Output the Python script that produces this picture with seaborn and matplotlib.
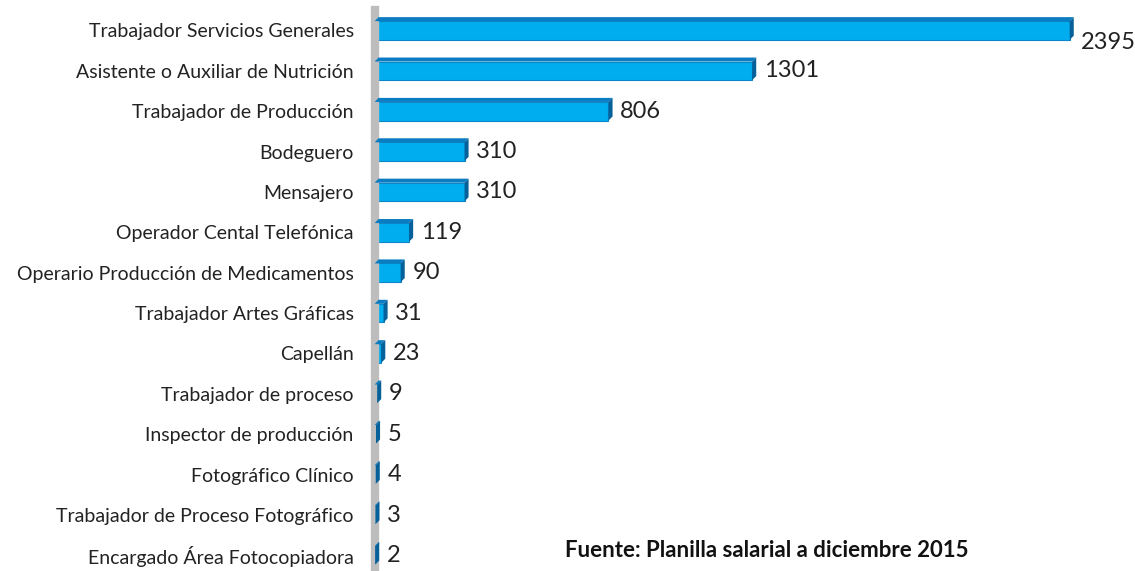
import matplotlib
matplotlib.use('Agg')
import matplotlib.pyplot as plt
from matplotlib.patches import Polygon
import pandas as pd
import seaborn as sns

# Data
puestos = ['Trabajador Servicios Generales', 'Asistente o Auxiliar de Nutrición',
           'Trabajador de Producción', 'Bodeguero', 'Mensajero',
           'Operador Cental Telefónica', 'Operario Producción de Medicamentos',
           'Trabajador Artes Gráficas', 'Capellán', 'Trabajador de proceso',
           'Inspector de producción', 'Fotográfico Clínico',
           'Trabajador de Proceso Fotográfico', 'Encargado Área Fotocopiadora']
cantidad = [2395, 1301, 806, 310, 310, 119, 90, 31, 23, 9, 5, 4, 3, 2]
fuente = 'Fuente: Planilla salarial a diciembre 2015'

df = pd.DataFrame({'Puesto': puestos, 'Cantidad': cantidad})

sns.set_style('white')
plt.rcParams['font.family'] = ['Lato', 'DejaVu Sans']

fig = plt.figure(figsize=(11.35, 5.71), dpi=100)
ax = fig.add_axes([0.330, -0.008, 0.67, 0.990])

sns.barplot(data=df, x='Cantidad', y='Puesto', color='#00AEEF', width=0.46,
            edgecolor='#0B86C8', linewidth=0.8, saturation=1, ax=ax)

# fake 3D faces (top and right side) derived from each bar
dx, dy = 14, 0.1
for p in ax.patches:
    x0, y0 = p.get_x(), p.get_y()
    w, h = p.get_width(), p.get_height()
    top = Polygon([(x0, y0), (x0 + dx, y0 - dy), (x0 + w + dx, y0 - dy), (x0 + w, y0)],
                  closed=True, facecolor='#0A7CC1', edgecolor='none', zorder=3)
    side = Polygon([(x0 + w, y0), (x0 + w + dx, y0 - dy), (x0 + w + dx, y0 + h - dy), (x0 + w, y0 + h)],
                   closed=True, facecolor='#06609A', edgecolor='none', zorder=3)
    ax.add_patch(top)
    ax.add_patch(side)

# value labels
for i, v in enumerate(cantidad):
    off = 0.3 if i == 0 else 0.0
    ax.text(v + 40, i + off, str(v), va='center', ha='left', fontsize=17, color='#222222')

ax.set_xlim(0, 2620)
ax.set_ylim(13.5, -0.5)
ax.set_xlabel('')
ax.set_ylabel('')
ax.set_xticks([])
ax.tick_params(axis='y', labelsize=14, colors='#222222', length=0, pad=15)

for s in ['top', 'right', 'bottom']:
    ax.spines[s].set_visible(False)
ax.spines['left'].set_color('#BDBDBD')
ax.spines['left'].set_linewidth(6)

fig.text(0.498, 0.024, fuente, fontsize=16, fontweight='bold', color='#111111', ha='left')

fig.savefig('out.png', dpi=100)
